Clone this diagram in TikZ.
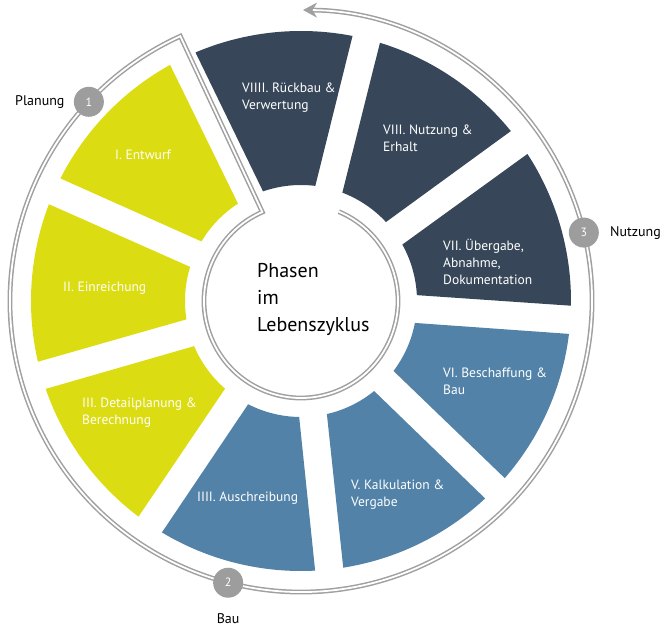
\documentclass[tikz,border=0pt]{standalone}
\usepackage{fontspec}
\setmainfont{PT Sans}
\usetikzlibrary{positioning, arrows.meta}

\definecolor{planunggelb}{RGB}{220,220,18}
\definecolor{baublau}{RGB}{82,130,168}
\definecolor{nutzungdunkel}{RGB}{55,71,89}
\definecolor{liniengrau}{RGB}{160,160,160}
\definecolor{kreisgrau}{RGB}{157,157,157}

\begin{document}
\begin{tikzpicture}[x=1pt, y=1pt, >={Stealth[length=14pt, width=15pt]},
    phase/.style={anchor=west, align=left, inner sep=0pt, text=white, font=\fontsize{13.5}{17}\selectfont},
    nummer/.style={circle, fill=kreisgrau, text=white, minimum size=30pt, inner sep=0pt, font=\fontsize{12}{14}\selectfont},
    stufe/.style={inner sep=0pt, font=\fontsize{14}{16}\selectfont},
    ring/.style={draw=liniengrau, double=white, double distance=1.8pt, line width=1.5pt}]

        \useasboundingbox (-301,-325) rectangle (364,301);

        %\draw[help lines, step=50] (-300,-300) grid (300,300);

        % neun Segmente, Lücken bei 36+40k Grad
        \foreach \a/\farbe in {116/planunggelb, 156/planunggelb, 196/planunggelb,
                               236/baublau, 276/baublau, 316/baublau,
                               356/nutzungdunkel, 36/nutzungdunkel, 76/nutzungdunkel}
            \fill[\farbe] (\a+6.9:116) -- (\a+3:270) arc[start angle=\a+3, end angle=\a+37, radius=270]
                -- (\a+33.1:116) arc[start angle=\a+33.1, end angle=\a+6.9, radius=116] -- cycle;

        % Ring mit Pfeil
        \draw[ring, ->] (67:97) arc[start angle=67, end angle=-246.5, radius=97]
            -- (114.5:291) arc[start angle=114.5, end angle=449.6, radius=291];

        \node[phase] (entwurf) at (-186,146) {I. Entwurf};
        \node[phase] (einreichung) at (-238,13) {II. Einreichung};
        \node[phase] (detailplanung) at (-219,-112) {III. Detailplanung \&\\Berechnung};
        \node[phase] (ausschreibung) at (-104,-197) {IIII. Auschreibung};
        \node[phase] (kalkulation) at (50,-194) {V. Kalkulation \&\\Vergabe};
        \node[phase] (beschaffung) at (142,-80) {VI. Beschaffung \&\\Bau};
        \node[phase] (uebergabe) at (142,39) {VII. Übergabe,\\Abnahme,\\Dokumentation};
        \node[phase] (erhalt) at (82,163) {VIII. Nutzung \&\\Erhalt};
        \node[phase] (rueckbau) at (-59,203) {VIIII. Rückbau \&\\Verwertung};

        \node[anchor=west, align=left, inner sep=0pt, font=\fontsize{20}{27}\selectfont] (titel) at (-44,1.5) {Phasen\\im\\Lebenszyklus};

        \node[nummer] (eins) at (136.8:291) {1};
        \node[nummer] (zwei) at (255.5:291) {2};
        \node[nummer] (drei) at (13.6:291) {3};

        \node[stufe, left=9pt of eins] (planung) {Planung};
        \node[stufe, below=15pt of zwei] (bau) {Bau};
        \node[stufe, right=11pt of drei] (nutzung) {Nutzung};
\end{tikzpicture}
\end{document}
